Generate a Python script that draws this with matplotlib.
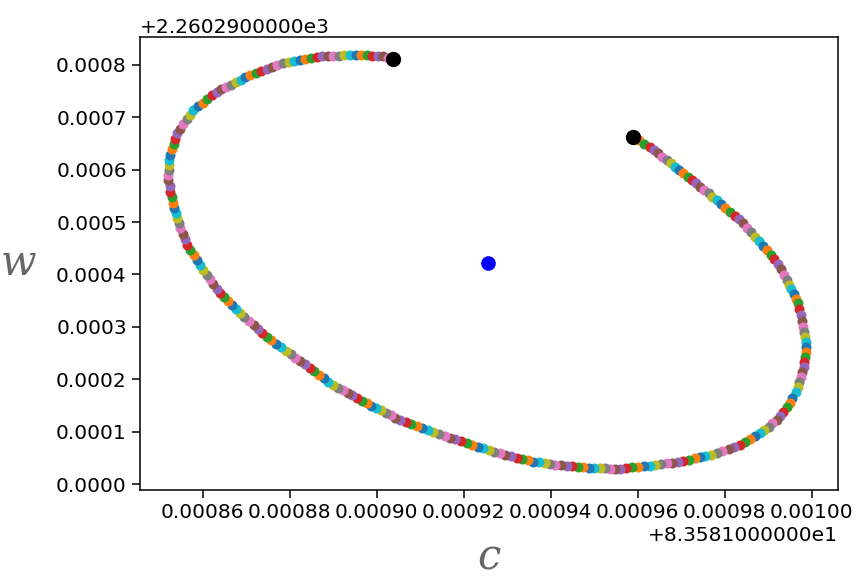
import matplotlib
matplotlib.use("Agg")
import matplotlib.pyplot as plt
from matplotlib.ticker import ScalarFormatter

# values are stored as micro-units added to the base offsets
c_base = 83.581
w_base = 2260.29

c_um = [
    959.0, 960.3, 961.5,
    962.8, 963.8, 964.7, 965.7, 966.7, 967.6, 968.6, 969.5,
    970.5, 971.5, 972.4, 973.4, 974.4, 975.3, 976.3, 977.2,
    978.2, 979.2, 980.2, 981.3, 982.3, 983.3,
    984.3, 985.2, 986.1, 987.0, 987.9, 988.8,
    989.7, 990.6, 991.4,
    992.3, 993.0, 993.6,
    994.3, 994.8, 995.3, 995.9, 996.4,
    996.9, 997.2, 997.5, 997.8,
    998.1, 998.3, 998.4, 998.6,
    998.7, 998.6, 998.5, 998.3,
    998.2, 997.9, 997.6, 997.2,
    996.9, 996.3, 995.6,
    995.0, 994.3, 993.5, 992.8,
    992.0, 991.0, 990.1, 989.1,
    988.1, 987.0, 985.8, 984.7,
    983.5, 982.2, 980.9, 979.5,
    978.2, 976.9, 975.6, 974.3, 973.1, 971.8,
    970.5, 969.2, 967.9, 966.7, 965.4, 964.1,
    962.8, 961.4, 960.0, 958.7, 957.3,
    955.9, 954.8, 953.6, 952.5,
    951.3, 950.0, 948.8, 947.5, 946.2, 945.0,
    943.7, 942.4, 941.1, 939.9, 938.6, 937.3,
    936.0, 934.7, 933.4, 932.2, 930.9, 929.6,
    928.3, 927.0, 925.8, 924.5, 923.2, 922.0,
    920.7, 919.4, 918.1, 916.9, 915.6, 914.3,
    913.0, 911.7, 910.5, 909.2, 907.9, 906.7,
    905.4, 904.3, 903.2, 902.1, 901.0, 899.9, 898.8,
    897.7, 896.6, 895.5, 894.4, 893.3, 892.2, 891.1,
    890.0, 888.9, 887.8, 886.7, 885.7, 884.6, 883.5,
    882.4, 881.3, 880.2, 879.1, 878.0, 876.9, 875.8,
    874.7, 873.7, 872.7, 871.7, 870.6, 869.6,
    868.6, 867.7, 866.8, 865.8, 864.9,
    864.0, 863.2, 862.4, 861.7, 860.9,
    860.1, 859.4, 858.6, 857.9,
    857.1, 856.5, 856.0, 855.4,
    854.8, 854.5, 854.1, 853.8, 853.4,
    853.1, 852.9, 852.6, 852.4,
    852.1, 852.1, 852.2, 852.2,
    852.3, 852.6, 853.0, 853.3, 853.7,
    854.0, 854.8, 855.5, 856.3, 857.0,
    857.8, 858.9, 860.0, 861.0, 862.1,
    863.2, 864.3, 865.4, 866.5, 867.6, 868.7, 869.8,
    870.9, 872.2, 873.4, 874.7, 876.0, 877.2,
    878.5, 879.8, 881.1, 882.3, 883.6, 884.9,
    886.2, 887.5, 888.8, 890.0, 891.3, 892.6,
    893.9, 895.2, 896.4, 897.7, 899.0, 900.2,
    901.5, 902.7, 903.8,
]

w_um = [
    661.9, 655.9, 649.9,
    643.9, 637.6, 631.2, 624.9, 618.5, 612.2, 605.9, 599.5,
    593.2, 586.8, 580.5, 574.1, 567.7, 561.3, 555.0, 548.6,
    542.2, 534.8, 527.4, 519.9, 512.5, 505.1,
    497.7, 489.2, 480.7, 472.2, 463.7, 455.2,
    446.7, 437.8, 428.9,
    420.0, 409.8, 399.7,
    389.5, 380.6, 371.7, 362.8, 353.9,
    345.0, 333.8, 322.7, 311.5,
    300.3, 290.8, 281.2, 271.7,
    262.1, 252.6, 243.0, 233.5,
    223.9, 214.4, 204.8, 195.3,
    185.8, 175.2, 164.7,
    154.1, 146.1, 138.2, 130.2,
    122.2, 115.9, 109.5, 103.2,
    96.8, 91.2, 85.7, 80.1,
    74.5, 70.5, 66.6, 62.6,
    58.6, 56.2, 53.7, 51.3, 48.8, 46.4,
    43.9, 42.4, 40.9, 39.4, 37.9, 36.4,
    34.9, 33.8, 32.8, 31.7, 30.7,
    29.6, 29.4, 29.5, 29.7,
    30.0, 30.7, 31.5, 32.2, 32.9, 33.7,
    34.4, 35.8, 37.1, 38.5, 39.9, 41.2,
    42.6, 45.3, 47.9, 50.6, 53.3, 55.9,
    58.6, 61.8, 65.0, 68.1, 71.3, 74.5,
    77.7, 81.4, 85.1, 88.7, 92.4, 96.1,
    99.8, 103.5, 107.3, 111.0, 114.7, 118.5,
    122.2, 126.8, 131.3, 135.9, 140.4, 145.0, 149.5,
    154.1, 159.1, 164.1, 169.1, 174.0, 179.0, 184.0,
    189.0, 195.5, 202.1, 208.6, 215.2, 221.7, 228.3,
    234.8, 241.4, 248.1, 254.7, 261.3, 268.0, 274.6,
    281.2, 288.7, 296.1, 303.6, 311.0, 318.5,
    325.9, 333.5, 341.2, 348.8, 356.5,
    364.1, 373.0, 381.9, 390.7, 399.6,
    408.5, 418.1, 427.6, 437.2,
    446.7, 457.2, 467.7, 478.2,
    488.7, 498.1, 507.6, 517.0, 526.5,
    535.9, 547.0, 558.2, 569.3,
    580.4, 589.9, 599.5, 609.0,
    618.5, 628.7, 638.9, 649.1, 659.3,
    669.5, 678.4, 687.3, 696.2, 705.1,
    714.0, 721.0, 728.0, 734.9, 741.9,
    748.9, 753.5, 758.0, 762.6, 767.1, 771.7, 776.2,
    780.8, 784.5, 788.3, 792.0, 795.7, 799.5,
    803.2, 805.3, 807.4, 809.5, 811.6, 813.7,
    815.8, 816.3, 816.9, 817.4, 817.9, 818.5,
    819.0, 819.0, 818.8, 818.4, 818.0, 817.6,
    817.1, 814.0, 810.8,
]

center_um = (925.7, 421.3)

c = [c_base + v * 1e-6 for v in c_um]
w = [w_base + v * 1e-6 for v in w_um]


class LongOffset(ScalarFormatter):
    # old-style long offset string, e.g. +8.3581000000e1
    def __init__(self, txt):
        super().__init__(useOffset=True)
        self.txt = txt

    def get_offset(self):
        return self.txt


fig = plt.figure(figsize=(8.57, 5.8), dpi=100)
ax = fig.add_axes([0.1634, 0.156, 0.8141, 0.7807])

for ci, wi in zip(c, w):
    ax.plot(ci, wi, 'o', markersize=6.2)

ax.plot([c[0], c[-1]], [w[0], w[-1]], 'o', color='black', markersize=10)
ax.plot(c_base + center_um[0] * 1e-6, w_base + center_um[1] * 1e-6, 'o',
        color='blue', markersize=9.5)

ax.set_xlim(c_base + 845.6e-6, c_base + 1006.0e-6)
ax.set_ylim(w_base - 10.5e-6, w_base + 853.9e-6)

ax.xaxis.set_major_formatter(LongOffset('+8.3581000000e1'))
ax.yaxis.set_major_formatter(LongOffset('+2.2602900000e3'))

ax.set_xlabel('c', fontsize=30, family='DejaVu Serif', style='italic', color='#666666',
              labelpad=11)
ax.set_ylabel('w', fontsize=30, family='DejaVu Serif', style='italic', color='#666666',
              rotation=0, labelpad=27, va='center')

ax.tick_params(axis='both', labelsize=14.5, length=6, width=1.1)
ax.xaxis.get_offset_text().set_fontsize(14.5)
ax.yaxis.get_offset_text().set_fontsize(14.5)
for s in ax.spines.values():
    s.set_linewidth(1.1)

fig.savefig('out.png', dpi=100)
